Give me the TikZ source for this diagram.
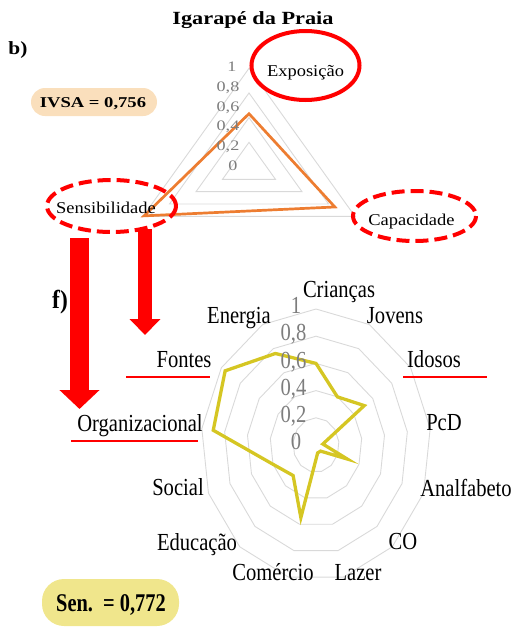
\documentclass[tikz,border=0pt]{standalone}
\usepackage{fontspec}
\setmainfont{Liberation Serif}
\usepackage{graphicx}
\usetikzlibrary{arrows.meta}
\definecolor{gridc}{RGB}{217,217,217}
\definecolor{orangec}{RGB}{237,125,49}
\definecolor{yellowc}{RGB}{213,198,35}
\definecolor{redc}{RGB}{255,0,0}
\definecolor{tickc}{RGB}{125,125,125}
\definecolor{peach}{RGB}{250,223,188}
\definecolor{khakic}{RGB}{240,230,140}
\newcommand{\sx}[2]{\scalebox{#1}[1]{#2}}
\begin{document}
\begin{tikzpicture}[x=1pt,y=-1pt,
  ring/.style={draw=gridc,line width=0.9pt},
  topl/.style={anchor=base,inner sep=0pt,font=\fontsize{16.5}{19}\selectfont},
  toptick/.style={anchor=base,inner sep=0pt,text=tickc,font=\fontsize{14.5}{17}\selectfont},
  botl/.style={anchor=base,inner sep=0pt,font=\fontsize{24.5}{28}\selectfont},
  bottick/.style={anchor=base,inner sep=0pt,text=tickc,font=\fontsize{24.5}{28}\selectfont},
  ellsolid/.style={draw=redc,line width=4pt},
  elldash/.style={draw=redc,line width=4pt,dash pattern=on 13pt off 6pt},
  uline/.style={draw=redc,line width=1.5pt},
  bigarrow/.style={draw=redc,line width=#1},
  pill/.style={rounded corners=14pt,draw=none}]
\useasboundingbox (0,0) rectangle (529,627);

% ---------------- top radar (3 axes) ----------------
\foreach \r in {0.25,0.5,0.75,1} {
  \draw[ring] (249,{167-98.7*\r}) -- ({249+106*\r},{167+49.35*\r}) -- ({249-106*\r},{167+49.35*\r}) -- cycle;
}
\coordinate (tE) at (249,{167-98.7*0.54});
\coordinate (tC) at ({249+106*0.81},{167+49.35*0.81});
\coordinate (tS) at ({249-106*0.99},{167+49.35*0.99});
\draw[orangec,line width=2.7pt,line join=miter] (tE) -- (tC) -- (tS) -- cycle;

\node[anchor=base,inner sep=0pt,font=\bfseries\fontsize{18.6}{21}\selectfont] (title) at (253,24) {\sx{1.2}{Igarapé da Praia}};
\node[anchor=base,inner sep=0pt,font=\bfseries\fontsize{18.6}{21}\selectfont] (lb) at (18,54) {\sx{1.15}{b)}};

\node[toptick] (t1) at (232,71.7) {\sx{1.25}{1}};
\node[toptick] (t08) at (228,91.7) {\sx{1.25}{0,8}};
\node[toptick] (t06) at (228,111.7) {\sx{1.25}{0,6}};
\node[toptick] (t04) at (228,130.7) {\sx{1.25}{0,4}};
\node[toptick] (t02) at (228,150.7) {\sx{1.25}{0,2}};
\node[toptick] (t0) at (233,170.7) {\sx{1.25}{0}};

\node[topl] (expo) at (305.5,76) {\sx{1.12}{Exposição}};
\node[topl] (sens) at (106,213.3) {\sx{1.12}{Sensibilidade}};
\node[topl] (capa) at (411.5,225) {\sx{1.12}{Capacidade}};

\fill[peach,pill] (31,88) rectangle (157,116);
\node[anchor=base,inner sep=0pt,font=\bfseries\fontsize{15}{18}\selectfont] (ivsa) at (93,107.3) {\sx{1.24}{IVSA = 0,756}};

% ---------------- arrows ----------------
\coordinate (a1s) at (79.5,238);
\coordinate (a1t) at (79.5,409);
\coordinate (a2s) at (145,229);
\coordinate (a2t) at (145,335);
\draw[bigarrow=19pt,-{Triangle[width=39pt,length=19pt]}] (a1s) -- (a1t);
\draw[bigarrow=14pt,-{Triangle[width=30pt,length=16pt]}] (a2s) -- (a2t);

% ---------------- ellipses ----------------
\draw[ellsolid] (305.5,65.5) ellipse [x radius=54, y radius=34.5];
\draw[elldash] (111.5,206) ellipse [x radius=64.5, y radius=26];
\draw[elldash] (414.5,216) ellipse [x radius=61.5, y radius=25];

% ---------------- bottom radar (13 axes) ----------------
\foreach \r in {0.2,0.4,0.6,0.8,1.0} {
  \draw[ring] (316,{445-136*\r}) \foreach \k in {1,...,12} { -- ({316+115*\r*sin(\k*360/13)},{445-136*\r*cos(\k*360/13)}) } -- cycle;
}
\foreach \v [count=\i from 0] in {0.60,0.40,0.51,0.06,0.29,0.06,0.06,0.55,0.30,0.40,0.90,0.96,0.76} {
  \coordinate (d\i) at ({316+115*\v*sin(\i*360/13)},{445-136*\v*cos(\i*360/13)});
}
\draw[yellowc,line width=3.3pt,line join=miter] (d0) -- (d1) -- (d2) -- (d3) -- (d4) -- (d5) -- (d6) -- (d7) -- (d8) -- (d9) -- (d10) -- (d11) -- (d12) -- cycle;

\node[bottick] (b1) at (296,313) {\sx{0.84}{1}};
\node[bottick] (b08) at (293.5,340.5) {\sx{0.84}{0,8}};
\node[bottick] (b06) at (293.5,368) {\sx{0.84}{0,6}};
\node[bottick] (b04) at (293.5,395.5) {\sx{0.84}{0,4}};
\node[bottick] (b02) at (293.5,422.5) {\sx{0.84}{0,2}};
\node[bottick] (b0) at (296,449) {\sx{0.84}{0}};

\node[botl] (cri) at (339,297) {\sx{0.84}{Crianças}};
\node[botl] (jov) at (395,323) {\sx{0.84}{Jovens}};
\node[botl] (ido) at (434,367) {\sx{0.84}{Idosos}};
\node[botl] (pcd) at (444,430) {\sx{0.84}{PcD}};
\node[botl] (ana) at (466,496) {\sx{0.84}{Analfabeto}};
\node[botl] (co) at (403,549) {\sx{0.84}{CO}};
\node[botl] (laz) at (358,580) {\sx{0.84}{Lazer}};
\node[botl] (com) at (273,580) {\sx{0.84}{Comércio}};
\node[botl] (edu) at (197,550) {\sx{0.84}{Educação}};
\node[botl] (soc) at (178,495) {\sx{0.84}{Social}};
\node[botl] (org) at (140,431.5) {\sx{0.84}{Organizacional}};
\node[botl] (fon) at (184,367) {\sx{0.84}{Fontes}};
\node[botl] (ene) at (239,323) {\sx{0.84}{Energia}};

\draw[uline] (126,377) -- (210,377);
\draw[uline] (71,441) -- (198,441);
\draw[uline] (403,377) -- (487,377);

\node[anchor=base,inner sep=0pt,font=\bfseries\fontsize{26}{30}\selectfont] (lf) at (60,308) {\sx{0.9}{f)}};

\fill[khakic,rounded corners=22pt] (42,579) rectangle (179,626);
\node[anchor=base,inner sep=0pt,font=\bfseries\fontsize{25.5}{30}\selectfont] (sen) at (111,611.5) {\sx{0.8}{Sen.\ \ = 0,772}};
\end{tikzpicture}
\end{document}
